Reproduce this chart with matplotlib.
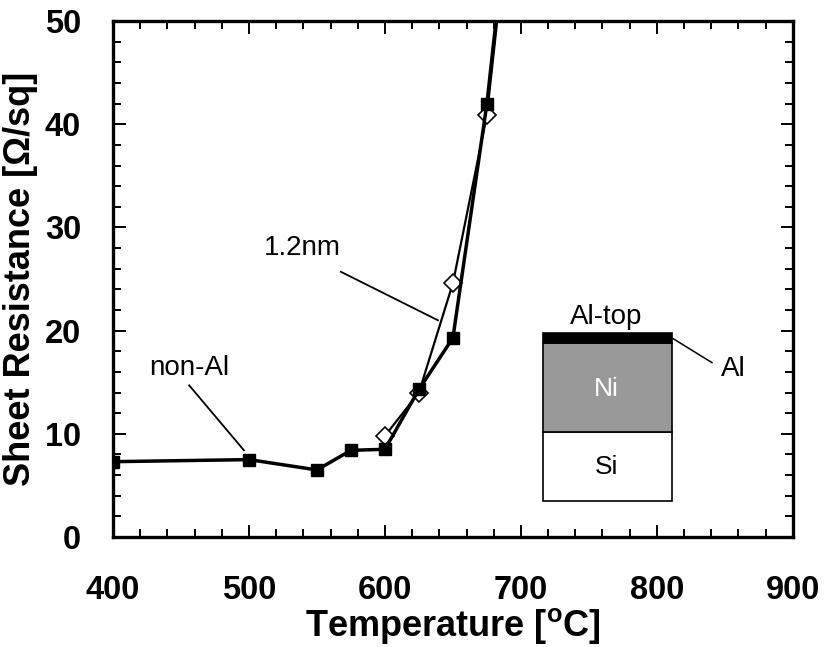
import numpy as np
import matplotlib.pyplot as plt
from matplotlib.patches import Rectangle
from matplotlib.ticker import MultipleLocator

plt.rcParams['font.family'] = ['Liberation Sans', 'DejaVu Sans']

# data
temp_nonal = [400, 500, 550, 575, 600, 625, 650, 675, 700]
rs_nonal = [7.3, 7.5, 6.5, 8.4, 8.5, 14.3, 19.3, 42.0, 72.0]
temp_12nm = [600, 625, 650, 675, 700]
rs_12nm = [9.8, 14.0, 24.6, 40.9, 71.0]

fig = plt.figure(figsize=(8.25, 6.47), dpi=100)
ax = fig.add_axes([0.137, 0.170, 0.824, 0.7975])

# 1.2nm series first so the squares sit on top
ax.plot(temp_12nm, rs_12nm, color='black', lw=1.6, marker='D', ms=9,
        mfc='white', mec='black', mew=1.2, zorder=3)
ax.plot(temp_nonal, rs_nonal, color='black', lw=2.5, marker='s', ms=8.5,
        mfc='black', mec='black', zorder=4)

ax.set_xlim(400, 900)
ax.set_ylim(0, 50)
ax.xaxis.set_major_locator(MultipleLocator(100))
ax.xaxis.set_minor_locator(MultipleLocator(20))
ax.yaxis.set_major_locator(MultipleLocator(10))
ax.yaxis.set_minor_locator(MultipleLocator(2))
ax.tick_params(which='both', direction='in', top=True, right=True, width=1.4)
ax.tick_params(which='major', length=9)
ax.tick_params(which='minor', length=6)
ax.tick_params(axis='x', which='major', pad=27, labelsize=23.5)
ax.tick_params(axis='y', which='major', pad=23, labelsize=23.5)
for lab in ax.get_xticklabels() + ax.get_yticklabels():
    lab.set_fontweight('bold')
for sp in ax.spines.values():
    sp.set_linewidth(2.4)

ax.set_xlabel('Temperature [$\\mathregular{^{o}}$C]', fontsize=26, fontweight='bold', labelpad=0)
ax.set_ylabel('Sheet Resistance [\u03a9/sq]', fontsize=26, fontweight='bold', labelpad=5)

# annotations
ax.text(456, 16.4, 'non-Al', fontsize=20, ha='center', va='center')
ax.plot([456, 496.3], [14.7, 8.4], color='black', lw=1.3)
ax.text(539, 28.0, '1.2nm', fontsize=20, ha='center', va='center')
ax.plot([567.6, 639], [25.7, 21.0], color='black', lw=1.3)

# layer stack inset
x0, x1 = 716, 811
ax.add_patch(Rectangle((x0, 3.5), x1 - x0, 10.17 - 3.5, fc='white', ec='black', lw=1.2))
ax.add_patch(Rectangle((x0, 10.17), x1 - x0, 18.8 - 10.17, fc='#999999', ec='black', lw=1.2))
ax.add_patch(Rectangle((x0, 18.8), x1 - x0, 19.77 - 18.8, fc='black', ec='black', lw=1.2))
ax.text(763, 21.3, 'Al-top', fontsize=20, ha='center', va='center')
ax.text(763, 14.3, 'Ni', fontsize=19, ha='center', va='center', color='white')
ax.text(763, 6.8, 'Si', fontsize=19, ha='center', va='center')
ax.text(847, 16.3, 'Al', fontsize=20, ha='left', va='center')
ax.plot([811, 840.5], [19.3, 16.9], color='black', lw=1.1)

fig.savefig('out.png', dpi=100)
